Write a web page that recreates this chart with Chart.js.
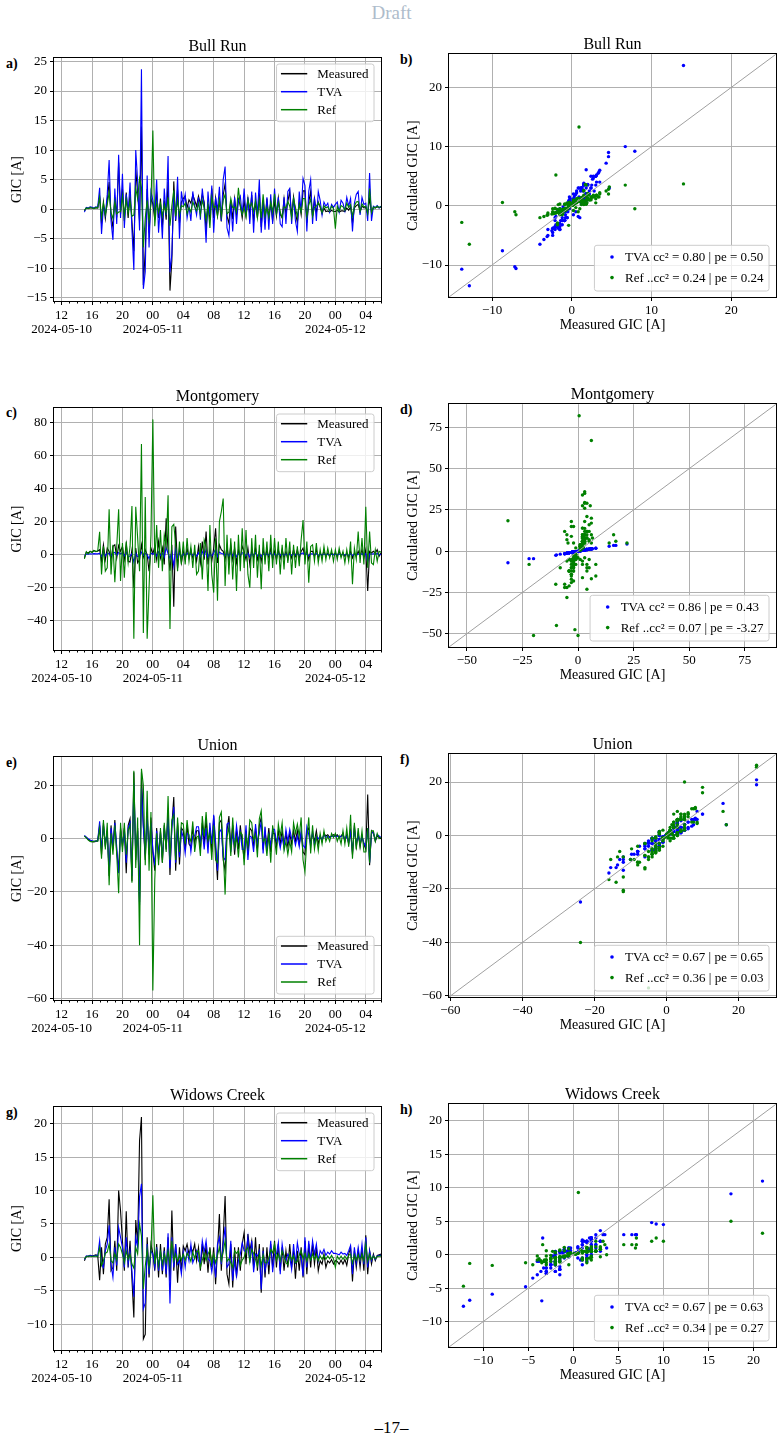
<!DOCTYPE html>
<html><head><meta charset="utf-8">
<script src="https://cdn.jsdelivr.net/npm/chart.js@4.4.1/dist/chart.umd.min.js"></script>
<style>
html,body{margin:0;padding:0;background:#fff;}
body{width:783px;height:1442px;position:relative;overflow:hidden;font-family:'Liberation Serif','Times New Roman',Times,serif;}
canvas{position:absolute;}
.lab{position:absolute;font-weight:bold;font-size:14px;line-height:14px;color:#000;}
#draft{position:absolute;left:0;width:783px;text-align:center;top:2px;font-size:19px;line-height:22px;color:#aebccb;}
#pageno{position:absolute;left:0;width:783px;text-align:center;top:1418px;font-size:17px;line-height:20px;color:#000;}
</style></head><body>
<div id="draft">Draft</div>
<div id="pageno">–17–</div>
<div class="lab" style="left:6px;top:57px">a)</div>
<div class="lab" style="left:400px;top:53px">b)</div>
<div class="lab" style="left:6px;top:406px">c)</div>
<div class="lab" style="left:400px;top:403px">d)</div>
<div class="lab" style="left:6px;top:756px">e)</div>
<div class="lab" style="left:400px;top:753px">f)</div>
<div class="lab" style="left:6px;top:1106px">g)</div>
<div class="lab" style="left:400px;top:1103px">h)</div>
<script>
// ---------------- DATA ----------------
// samples every 15 minutes from 2024-05-10 15:00 (hours counted from 2024-05-10 00:00)
const START_HOUR = 15;
const STEP_HOURS = 0.25;
const stationNames = ['Bull Run', 'Montgomery', 'Union', 'Widows Creek'];
const seriesNames = ['Measured', 'TVA', 'Ref'];
const timeTicks = [12, 16, 20, 24, 28, 32, 36, 40, 44, 48, 52];

const bullRunMeasured = [
-0.3,0.2,0.1,0.2,0.2,0.1,0.2,0.2,
2.0,-2.5,1.2,-1.6, 1.4,4.6,-1.2,-3.1, 2.0,-1.4,7.9,-0.8, 3.5,-2.0,2.8,-1.5,
2.6,-2.1,-7.15,6.7, 2.7,-2.0,14.0,-12.85, -7.0,3.4,-4.0,1.8, 0.9,-1.8,3.0,-1.5,
1.8,-3.0,1.5,-1.8, 4.6,-13.8,-8.7,4.7, -2.0,3.3,-2.4,1.2, 1.8,2.2,0.2,1.6,
1.0,2.4,1.5,0.5, 2.2,0.8,2.5,1.2, -3.5,0.9,-1.8,3.5, -1.5,1.9,-1.1,1.5,
-2.1,2.4,4.3,-1.2, -2.4,1.5,-1.7,1.8, -0.9,1.7,0.6,-1.5, 1.5,-1.2,1.8,-0.9,
2.4,-2.1,1.2,-1.5, 2.7,-3.0,1.5,-1.8, 1.8,-1.5,1.1,-2.1, 1.5,-1.2,1.9,-0.9,
-1.5,1.8,-0.9,1.3, 3.0,-1.2,2.1,-0.6, -2.3,1.2,-0.9,3.1, 3.1,-2.3,1.2,3.0,
-1.2,1.8,-0.6,1.2, 0.3,-0.8,0.2,-0.4, -0.3,-0.5,-0.2,-0.4, -0.4,-0.2,-0.5,-0.3,
-0.3,-0.4,0.2,-0.2, 0.4,-2.4,0.2,0.6, 0.8,-0.5,0.5,0.2, 0.3,-0.8,1.8,-0.6,
0.3,0.2,0.4,0.2, 0.4];
const bullRunTVA = [
-0.5,0.3,0.2,0.4,0.3,0.2,0.4,0.3,
3.6,-4.2,0.5,-1.0, 2.5,8.3,-2.0,-5.2, 3.5,-2.5,9.2,-1.5, 6.0,-3.2,2.5,-0.5,
4.5,-3.5,-10.3,10.0, 4.7,-3.6,23.7,-13.5, -10.6,5.7,-6.5,3.0, 1.5,-1.0,5.0,-4.0,
1.0,-5.0,3.5,-1.0, 9.0,-10.7,-7.6,3.0, -1.8,5.5,-5.0,3.0, 0.8,2.5,-1.5,0.5,
-2.0,3.0,0.6,-1.0, 2.0,-1.8,3.5,0.3, -5.7,3.0,-1.0,4.0, -4.0,2.0,-0.2,3.8,
-2.0,5.0,7.2,-3.2, -4.5,1.0,-3.8,2.0, -2.5,1.5,2.2,-1.0, 3.5,-1.0,2.0,-2.5,
3.0,-4.0,2.8,-1.0, 5.0,-4.0,1.2,-3.5, 2.0,-3.5,2.5,-2.5, 3.5,-1.0,2.0,-2.5,
-3.0,2.0,-2.5,3.0, 3.5,-2.5,2.0,-2.0, -3.8,3.0,-0.5,5.2, 4.0,-3.8,3.0,5.0,
-2.5,2.0,-2.0,3.0, 1.5,-1.0,1.2,0.5, 1.0,-0.5,0.8,0.3, 0.8,1.2,-0.5,1.5,
1.0,-0.3,2.0,0.5, 1.8,-3.8,1.0,2.5, 3.0,-1.0,2.0,0.8, 1.0,-2.0,6.1,-2.0,
0.5,0.3,0.6,0.2, 0.5];
const bullRunRef = [
-0.2,0.2,0.1,0.3,0.2,0.1,0.3,0.2,
2.1,-1.4,1.0,-0.9, 0.8,2.8,-0.6,-1.6, 1.3,-0.8,-0.5,-0.4, 2.2,-1.2,1.6,-0.7,
1.5,-1.2,-1.0,3.5, 1.8,5.2,3.7,-6.5, -1.5,1.5,-2.0,0.9, 13.3,-2.9,1.2,-0.5,
1.0,-1.2,0.8,-0.6, 2.0,-2.8,0.55,3.2, -1.2,1.5,-1.0,0.6, 0.4,1.0,-0.8,0.3,
-0.5,1.2,0.4,-0.3, 1.0,-1.0,1.5,0.2, -1.8,0.7,-3.2,2.0, 0.3,0.5,-1.2,1.6,
-1.2,1.5,2.5,-0.8, -0.5,1.8,0.2,0.4, -0.5,3.6,0.5,-0.9, 0.2,-1.3,1.6,0.3,
1.0,-0.4,1.4,-1.5, 1.5,-1.5,2.5,-1.1, 0.3,-1.4,1.2,-0.5, 2.6,-0.8,1.1,-0.5,
-1.4,0.4,0.2,1.3, 0.5,-1.5,1.8,0.3, -1.3,0.8,-0.5,1.8, 1.8,-1.3,0.7,1.7,
-1.2,0.3,0.5,1.1, 0.5,-0.6,0.6,0.2, 0.4,-0.3,0.5,0.1, -3.3,0.5,-0.4,0.6,
0.4,-0.2,1.0,0.3, 0.8,-1.2,0.5,1.2, 1.3,-0.4,0.9,0.4, 0.5,-0.8,3.5,-0.6,
0.4,0.2,0.5,0.3, 0.4];

const montgomeryMeasured = [
-2.0,1.5,1.0,2.0,1.5,2.5,1.8,2.2,
3.0,-4.0,6.0,-3.0, 4.0,2.0,-3.0,5.0, 6.0,-2.0,5.5,2.0, 5.0,-3.0,6.5,-4.0,
-4.5,3.0,-20.0,4.0, -5.0,-3.0,6.0,-1.4, 3.0,0.0,-10.0,4.0, 0.5,5.0,-3.0,8.0,
-2.0,4.0,-6.0,22.0, 3.0,-9.7,6.0,-31.5, 17.0,-8.0,4.0,-5.0, 2.0,-3.0,4.0,-2.0,
3.0,-2.0,2.0,-4.0, 5.0,-5.0,8.0,-3.0, 14.0,-6.0,3.0,-4.0, 4.0,16.0,-5.0,6.0,
3.0,2.0,-3.0,5.0, -4.0,6.0,-3.0,4.0, -5.0,3.0,-2.0,5.0, 2.0,-3.0,4.0,-6.0,
3.0,-2.0,4.0,-3.0, 2.0,-4.0,3.0,-2.0, 3.0,-2.0,4.0,-3.0, 2.0,-3.0,3.0,-2.0,
3.0,-2.0,2.0,-3.0, 2.0,-2.0,3.0,-1.0, 3.0,-2.0,2.0,4.0, -2.0,3.0,-3.0,2.0,
2.0,-1.0,3.0,-2.0, 1.0,-1.0,2.0,-1.0, 1.0,-1.0,1.0,0.0, 1.0,-1.0,2.0,-1.0,
1.0,-1.0,1.0,-2.0, 2.0,-2.0,1.0,-1.0, 2.0,-1.0,3.0,-2.0, 3.0,-22.0,2.0,1.0,
2.0,1.0,3.0,-1.0, 1.0];
const montgomeryTVA = [
-0.5,0.4,0.3,0.5,0.4,0.6,0.5,0.5,
0.8,-1.0,1.4,-0.8, 1.0,0.5,-0.8,1.2, 1.4,-0.5,1.3,0.5, 1.2,-0.7,1.5,-1.0,
-1.0,0.7,-4.5,1.0, -1.2,-0.7,1.5,-0.4, 0.8,0.0,-2.5,1.0, 0.2,1.2,-0.8,1.8,
-0.5,1.0,-1.5,4.4, 0.7,-2.2,1.5,-7.0, 3.5,-1.8,1.0,-1.2, 0.5,-0.7,1.0,-0.5,
0.7,-0.5,0.5,-1.0, 1.2,-1.2,1.8,-0.7, 3.0,-1.5,0.7,-1.0, 1.0,3.5,-1.2,1.5,
0.7,0.5,-0.7,1.2, -1.0,1.5,-0.7,1.0, -1.2,0.7,-0.5,1.2, 0.5,-0.7,1.0,-1.5,
0.7,-0.5,1.0,-0.7, 0.5,-1.0,0.7,-0.5, 0.7,-0.5,1.0,-0.7, 0.5,-0.7,0.7,-0.5,
0.7,-0.5,0.5,-0.7, 0.5,-0.5,0.7,-0.3, 0.7,-0.5,0.5,1.0, -0.5,0.7,-0.7,0.5,
0.5,-0.3,0.7,-0.5, 0.3,-0.3,0.5,-0.3, 0.3,-0.3,0.3,0.0, 0.3,-0.3,0.5,-0.3,
0.3,-0.3,0.3,-0.5, 0.5,-0.5,0.3,-0.3, 0.5,-0.3,0.7,-0.5, 0.7,-4.5,0.5,0.3,
0.5,0.3,0.7,-0.3, 0.3];
const montgomeryRef = [
-2.5,1.8,0.5,2.0,1.2,2.5,2.0,2.2,
13.8,-12.0,5.0,-10.0, -8.0,27.5,-12.0,6.0, -16.7,5.0,27.5,-16.0, 7.0,-14.0,8.0,-5.0,
5.0,29.5,-51.0,29.0, 10.0,-10.0,67.0,-47.5, 35.0,-51.0,-20.0,12.0, 82.0,-5.0,18.0,-8.0,
15.0,-10.0,12.0,5.0, 36.0,-45.0,17.0,18.4, 6.0,-10.0,8.0,-6.0, 8.0,-6.0,10.0,-4.0,
5.0,-8.0,6.0,-12.0, -10.0,7.0,-15.0,9.0, 5.0,-22.0,18.0,-12.0, -23.0,10.0,-28.0,20.0,
26.0,34.0,-19.0,12.0, -12.0,10.0,-15.0,8.0, -22.0,12.0,-10.0,16.0, -8.0,15.0,-12.0,-20.0,
10.0,-8.0,12.0,-14.0, 6.0,-21.0,10.0,-6.0, 8.0,-10.0,12.0,-8.0, 10.0,-6.0,8.0,-12.0,
6.0,-9.0,10.0,-5.0, 8.0,-12.0,6.0,-8.0, 5.0,-7.0,9.0,21.0, -6.0,8.0,-17.0,5.0,
6.0,-4.0,7.0,-5.0, 3.0,-4.0,5.0,-3.0, 4.0,-2.0,3.0,-4.0, 3.0,-3.0,4.0,-2.0,
2.0,-5.0,3.0,-4.0, 8.0,-18.0,4.0,-3.0, 14.0,-5.0,10.0,-6.0, 29.0,-8.0,14.0,-5.0,
-6.0,3.0,-4.0,2.0, 1.5];

const unionMeasured = [
1.0,0.5,-0.3,-0.8,-1.0,-1.2,-1.0,-0.8,
5.0,-6.0,6.0,-3.0, 3.0,-14.0,5.0,-4.0, 7.0,-5.0,-12.0,4.0, -3.0,4.0,-13.0,5.0,
7.5,-16.0,25.0,-8.0, 4.0,-23.9,25.0,5.0, -8.0,10.0,-6.0,8.0, -5.0,-12.0,4.0,-8.0,
3.0,-9.0,5.0,-4.0, 10.0,-13.6,5.0,15.7, -12.0,6.0,-9.7,4.0, 3.0,-4.0,5.0,-2.0,
-3.0,4.0,-2.0,3.0, 3.0,-4.0,6.0,-2.0, 7.5,-3.0,4.0,-5.0, 8.5,-4.0,-15.5,6.0,
7.0,-8.0,-12.0,3.0, 8.5,-3.0,5.0,-6.0, 3.0,-4.0,5.0,-2.0, -7.5,3.0,-6.0,4.0,
3.0,-3.0,4.0,-4.0, 5.0,8.0,-4.0,3.0, -3.0,4.0,-5.0,2.0, 2.0,-3.0,3.0,-2.0,
3.0,-2.0,2.0,-3.0, 2.0,-2.0,3.0,-1.0, 3.0,-2.0,2.0,-5.0, -6.0,3.0,4.0,-2.0,
2.0,-1.0,3.0,-2.0, 1.0,-1.0,2.0,1.0, 1.5,0.5,1.0,1.5, 1.0,1.5,0.5,1.0,
2.0,-1.0,1.5,-2.0, 3.0,-6.0,5.0,-3.0, 2.0,-3.0,1.0,-2.0, -4.0,16.6,-10.0,3.0,
2.0,-1.0,1.0,0.5, 0.0];
const unionTVA = [
1.2,0.6,0.0,-0.5,-0.8,-1.0,-0.9,-0.7,
6.5,-4.0,5.0,-2.0, 2.5,-12.0,4.0,-3.0, 6.0,-3.0,-13.0,3.0, -2.0,3.0,-9.0,4.0,
6.0,-14.0,20.8,-6.0, 3.0,-24.9,19.0,4.0, -6.0,8.0,-5.0,6.0, -4.0,-10.0,3.0,-6.0,
2.5,-7.0,4.0,-3.0, 8.0,-11.0,4.0,12.0, -9.0,5.0,-7.0,3.0, 0.5,-5.5,2.0,1.5,
-5.0,1.0,1.0,4.5, 4.5,-1.0,3.0,-4.0, 4.0,-5.5,6.0,-2.0, 9.0,-1.0,-12.0,2.5,
3.5,-7.0,-8.0,5.5, 6.0,-5.0,2.0,-3.0, 5.0,-1.0,2.5,-4.0, -4.0,5.0,-8.0,1.0,
0.5,-5.0,5.5,-1.5, 2.0,6.5,-5.5,4.5, -4.5,1.5,-2.5,3.5, 3.5,-1.0,0.5,-3.5,
0.5,-3.5,3.5,-1.0, 3.5,0.0,1.0,-2.5, 1.0,-3.0,3.0,-2.5, -3.5,4.5,1.5,-3.0,
3.0,-2.5,1.0,0.0, 1.0,-0.5,1.5,0.5, 1.0,0.5,0.8,1.0, 0.8,1.0,0.5,0.8,
1.5,-0.5,1.0,-1.5, 2.5,-5.0,4.0,-2.0, 1.5,-2.0,1.0,-1.5, -3.0,4.0,-9.0,2.0,
2.5,-0.5,1.5,1.0, 0.5];
const unionRef = [
1.0,0.3,-0.5,-1.0,-1.2,-1.0,-0.8,-1.0,
4.0,-7.5,7.0,-4.0, 6.0,-17.5,2.0,-6.0, 5.0,-6.0,-20.5,6.0, -5.0,6.0,-6.0,3.0,
5.0,-16.5,25.5,-11.0, 8.0,-40.0,26.3,20.0, -10.0,18.0,-12.0,10.0, -57.0,-15.5,2.0,-10.0,
4.0,-9.0,6.0,-5.0, 16.0,-8.0,7.0,9.0, -8.0,8.0,-5.0,6.0, 5.5,-2.0,7.0,0.5,
-1.0,6.5,-5.0,0.5, 1.0,-6.5,8.5,1.0, 10.0,-0.5,2.0,-8.0, 5.0,-8.0,-9.0,8.0,
10.0,-4.0,-21.0,0.5, 4.5,-6.5,8.0,-3.0, 0.5,-7.0,2.5,1.5, -10.0,1.0,-3.0,7.0,
6.0,-0.5,1.5,-7.0, 7.5,10.5,-1.0,0.0, -6.5,2.0,-9.0,5.0, 0.0,-6.0,5.5,1.0,
6.0,-4.5,-1.0,-6.0, -1.0,-5.0,6.0,2.0, 5.5,1.0,8.0,-8.0, -12.5,0.0,8.0,-5.5,
5.0,-4.0,1.0,-4.5, 2.0,-2.0,3.0,-1.0, 1.0,-1.0,2.0,0.5, 2.0,-1.0,1.0,-2.0,
3.0,-2.0,4.0,-3.0, 9.0,-7.5,6.0,-4.0, 4.0,-3.0,3.0,-5.0, -5.0,4.0,-9.0,3.0,
3.0,-1.0,2.0,0.0, 0.5];

const widowsCreekMeasured = [
-0.5,0.2,0.1,0.3,0.2,0.3,0.4,0.3,
-3.4,1.5,-2.5,2.0, 3.0,8.7,-2.0,-1.5, 2.5,-2.0,10.0,7.0, 2.5,-2.0,6.9,-1.5,
2.5,-3.3,-9.0,5.6, 2.0,17.5,21.0,-12.2, -11.5,3.0,-3.0,2.0, 0.56,-2.0,2.0,-3.0,
2.0,-2.5,1.5,-3.0, 3.0,-3.5,7.0,-2.0, 2.0,-3.8,1.5,-2.0, 1.7,1.0,2.0,0.5,
1.5,0.8,2.0,-0.5, 1.5,-2.0,2.0,-1.0, 1.8,-2.3,1.5,-1.5, 1.5,-4.0,1.0,6.5,
-2.0,3.0,9.2,-2.5, -4.0,2.0,-4.5,1.5, -3.0,1.5,-2.0,2.0, 3.7,-1.0,3.5,1.0,
2.5,-1.5,3.0,-2.0, 2.0,-5.3,1.5,-3.0, 1.5,-2.5,2.0,-1.5, 2.5,-1.5,2.0,-2.0,
1.5,-2.0,1.0,-1.5, 2.0,-1.5,1.0,-3.2, 1.0,-2.0,1.5,-3.0, 2.5,-2.5,2.0,-1.5,
2.0,-1.0,1.5,-2.0, -0.5,-1.0,0.5,-1.5, -0.5,-0.8,-0.3,-1.0, -0.5,-0.6,-1.0,-0.4,
-1.0,-0.3,-1.2,0.5, 1.5,-3.6,1.0,-1.5, 1.0,-1.5,1.2,-2.0, 3.3,-2.5,1.0,-1.0,
0.5,-0.5,0.3,0.4, 0.5];
const widowsCreekTVA = [
-0.3,0.2,0.2,0.3,0.2,0.2,0.3,0.2,
2.5,-1.0,-1.5,1.0, 2.0,4.8,-1.0,-3.0, 1.5,-1.2,4.5,3.0, 1.5,-1.5,3.0,-1.0,
1.0,-2.0,-5.9,3.0, 1.5,9.1,11.0,-7.7, -6.8,2.0,-2.5,1.0, 0.5,-1.5,1.5,-2.0,
1.0,-2.0,1.0,-2.5, 3.6,-6.9,3.0,-1.5, 2.0,-1.0,-0.5,-2.5, 0.8,-1.5,1.0,-0.5,
2.0,-0.8,0.0,1.0, -0.5,-1.0,2.5,0.8, 2.5,-0.2,-0.5,-2.2, 0.0,-3.0,2.0,3.0,
-1.0,2.0,4.6,-1.5, -1.0,2.5,-3.5,-0.5, -2.8,-0.5,0.5,2.2, 1.0,0.8,3.0,-0.8,
2.5,-2.2,0.5,0.2, 1.0,-4.8,1.0,-2.0, -0.5,-1.0,2.5,-2.2, 0.5,0.5,2.2,-2.5,
2.0,0.0,-0.5,0.5, 0.0,-1.8,2.0,-1.0, 2.2,0.5,0.0,-2.8, 3.0,-1.5,2.5,-0.5,
2.5,0.5,2.0,-0.5, 1.0,0.5,1.2,0.3, 0.8,0.5,1.0,0.6, 0.6,0.5,0.4,0.8,
0.5,0.6,0.3,1.0, 1.8,-2.5,1.5,-0.8, 1.5,-0.5,2.0,-1.0, 3.0,-1.5,1.0,-0.5,
0.3,-0.3,0.2,0.3, 0.3];
const widowsCreekRef = [
-0.2,0.1,0.2,0.2,0.1,0.2,0.2,0.1,
1.5,-1.2,-0.5,0.6, 0.8,2.0,-0.5,-0.8, 0.6,-0.4,2.0,1.5, 0.5,-0.8,1.0,-0.3,
0.5,-1.0,-1.6,1.5, 0.5,5.0,3.2,-4.7, -1.3,1.2,-1.5,0.8, 9.3,-1.0,1.0,-1.2,
0.8,-1.0,0.5,-0.8, 1.0,-1.2,2.5,-0.5, 0.5,-0.6,0.4,-0.4, 0.5,-0.5,0.6,0.2,
-0.6,0.8,-0.2,0.9, 1.0,-1.5,-0.4,0.6, -0.5,0.5,1.1,-1.0, 0.5,-0.8,0.3,1.5,
-0.5,0.8,2.5,-0.6, -0.2,-0.8,-1.5,1.0, 0.6,1.0,-1.2,-0.4, 0.0,1.1,1.5,-0.7,
1.2,0.6,-0.3,-1.3, 0.5,-1.2,0.4,-0.8, -0.8,-0.1,1.2,0.7, 2.0,-0.4,0.5,-0.5,
1.0,0.3,-0.8,-1.1, 0.5,-0.4,0.3,-0.8, -0.6,0.4,1.0,-0.2, 0.6,-0.6,0.5,-0.4,
0.5,-0.3,0.4,-0.5, 0.2,-0.3,0.3,-0.3, 0.2,-0.2,0.3,-0.2, -1.5,0.2,-0.3,0.2,
-0.3,0.2,-0.3,0.3, 0.5,-0.9,0.4,-0.4, 0.4,-0.4,0.5,-0.5, 2.0,-0.6,0.5,-0.3,
0.2,-0.2,0.1,0.2, 0.2];

// scatter legend texts
const tvaScores = ['TVA cc² = 0.80 | pe = 0.50', 'TVA cc² = 0.86 | pe = 0.43', 'TVA cc² = 0.67 | pe = 0.65', 'TVA cc² = 0.67 | pe = 0.63'];
const refScores = ['Ref ..cc² = 0.24 | pe = 0.24', 'Ref ..cc² = 0.07 | pe = -3.27', 'Ref ..cc² = 0.36 | pe = 0.03', 'Ref ..cc² = 0.34 | pe = 0.27'];

// axis ticks and limits
const tsYTicks = [[-15,-10,-5,0,5,10,15,20,25], [-40,-20,0,20,40,60,80], [-60,-40,-20,0,20], [-10,-5,0,5,10,15,20]];
const tsYLimits = [[-15.56, 25.6], [-57.8, 88.9], [-60.6, 30.7], [-13.85, 22.5]];
const tsXLimits = [11, 54];
const scTicks = [[-10,0,10,20], [-50,-25,0,25,50,75], [-60,-40,-20,0,20], [-10,-5,0,5,10,15,20]];
const scLimits = [[-15.4, 25.6], [-58, 89], [-60.4, 30.4], [-13.8, 22.5]];

// ---------------- LAYOUT ----------------
const FONT = "'Liberation Serif','Times New Roman',Times,serif";
Chart.defaults.font.family = FONT;
Chart.defaults.font.size = 13;
Chart.defaults.color = '#000';

const TS_TOP = [58, 408, 757, 1107], TS_BOT = [301, 650, 1000, 1350];
const SC_TOP = [54, 404, 754, 1104], SC_BOT = [297, 647, 997, 1347];
const GRID = '#b0b0b0';

const measured = [bullRunMeasured, montgomeryMeasured, unionMeasured, widowsCreekMeasured];
const tva = [bullRunTVA, montgomeryTVA, unionTVA, widowsCreekTVA];
const ref = [bullRunRef, montgomeryRef, unionRef, widowsCreekRef];
const sampleHours = bullRunMeasured.map((_, i) => START_HOUR + i * STEP_HOURS);

function fmtNum(v) { return v < 0 ? '\u2212' + Math.abs(v) : String(v); }
function pad2(n) { return (n < 10 ? '0' : '') + n; }
function timeLabel(h) {
  const hh = pad2(h % 24);
  if (h === timeTicks[0] || h % 24 === 0) return [hh, '2024-05-' + pad2(10 + Math.floor(h / 24))];
  return hh;
}

const framePlugin = {
  id: 'frame',
  afterDatasetsDraw(chart, args, o) {
    const a = chart.chartArea, c = chart.ctx;
    c.save(); c.strokeStyle = '#000'; c.lineWidth = 1;
    c.strokeRect(Math.round(a.left) - 0.5, Math.round(a.top) - 0.5, Math.round(a.right - a.left) + 1, Math.round(a.bottom - a.top) + 1);
    if (o && o.minorHours) {
      const xs = chart.scales.x;
      c.beginPath();
      for (let h = Math.ceil(xs.min); h <= xs.max; h++) {
        if (h % 4 === 0) continue;
        const px = Math.round(xs.getPixelForValue(h)) + 0.5;
        c.moveTo(px, Math.round(a.bottom)); c.lineTo(px, Math.round(a.bottom) + 2.5);
      }
      c.stroke();
    }
    c.restore();
  }
};

const insideLegend = {
  id: 'insideLegend',
  afterDraw(chart, args, o) {
    if (!o || !o.kind) return;
    const ctx = chart.ctx, a = chart.chartArea;
    const items = chart.data.datasets.filter(d => d.inLegend);
    ctx.save();
    ctx.font = '13px ' + FONT;
    const tw = Math.max(...items.map(d => ctx.measureText(d.label).width));
    const textOff = o.kind === 'line' ? 40.7 : 30.6;
    const w = textOff + tw + 5.5;
    const h = o.padTop + o.rowH * (items.length - 1) + o.padBottom;
    const x0 = a.right - 7 - w;
    const y0 = o.pos === 'upper' ? a.top + 6 : a.bottom - 6 - h;
    ctx.beginPath();
    if (ctx.roundRect) ctx.roundRect(x0, y0, w, h, 2.5); else ctx.rect(x0, y0, w, h);
    ctx.fillStyle = 'rgba(255,255,255,0.8)'; ctx.fill();
    ctx.strokeStyle = '#cccccc'; ctx.lineWidth = 1; ctx.stroke();
    items.forEach((d, i) => {
      const cy = y0 + o.padTop + i * o.rowH;
      if (o.kind === 'line') {
        ctx.strokeStyle = d.borderColor; ctx.lineWidth = 1.5;
        ctx.beginPath(); ctx.moveTo(x0 + 4.4, cy); ctx.lineTo(x0 + 30.7, cy); ctx.stroke();
      } else {
        ctx.fillStyle = d.backgroundColor;
        ctx.beginPath(); ctx.arc(x0 + 17.6, cy, 1.8, 0, Math.PI * 2); ctx.fill();
      }
      ctx.fillStyle = '#000'; ctx.textBaseline = 'middle'; ctx.textAlign = 'left';
      ctx.fillText(d.label, x0 + textOff, cy + 1);
    });
    ctx.restore();
  }
};

function gridOpts() { return { color: GRID, lineWidth: 1, tickLength: 4, tickColor: '#000', tickWidth: 1, drawTicks: true }; }

function yAxis(lim, ticks, title, width) {
  return {
    type: 'linear', position: 'left', min: lim[0], max: lim[1],
    afterBuildTicks: s => { s.ticks = ticks.map(v => ({ value: v })); },
    afterFit: s => { s.width = width; },
    ticks: { autoSkip: false, padding: 3, font: { size: 13 }, color: '#000', callback: v => fmtNum(v) },
    grid: gridOpts(), border: { display: false },
    title: { display: true, text: title, font: { size: 14 }, padding: 0, color: '#000' }
  };
}

function addCanvas(left, top, w, h) {
  const cv = document.createElement('canvas');
  cv.width = w; cv.height = h;
  cv.style.left = left + 'px'; cv.style.top = top + 'px';
  cv.style.width = w + 'px'; cv.style.height = h + 'px';
  document.body.appendChild(cv);
  return cv;
}

function makeTimeSeries(k) {
  const top = TS_TOP[k], bot = TS_BOT[k];
  const cTop = top - 21, cH = bot + 40 - cTop, cW = 391;
  const cv = addCanvas(0, cTop, cW, cH);
  const pts = arr => arr.map((v, i) => ({ x: sampleHours[i], y: v }));
  const colors = ['#000000', '#0000ff', '#008000'];
  const arrays = [measured[k], tva[k], ref[k]];
  new Chart(cv, {
    type: 'line',
    data: { datasets: arrays.map((arr, j) => ({
      label: seriesNames[j], data: pts(arr), borderColor: colors[j], backgroundColor: colors[j],
      borderWidth: 1.1, pointRadius: 0, tension: 0, order: 3 - j, inLegend: true
    })) },
    options: {
      responsive: false, animation: false, devicePixelRatio: 1, events: [],
      layout: { padding: { left: 9, right: 10, top: 0, bottom: 0 } },
      plugins: {
        legend: { display: false }, tooltip: { enabled: false },
        title: { display: true, text: stationNames[k], fullSize: false, color: '#000',
          font: { size: 16, weight: 'normal' }, padding: { top: 0, bottom: 1.8 } },
        frame: { minorHours: true },
        insideLegend: { kind: 'line', pos: k === 2 ? 'lower' : 'upper', rowH: 18, padTop: 9.7, padBottom: 12 }
      },
      scales: {
        x: {
          type: 'linear', position: 'bottom', min: tsXLimits[0], max: tsXLimits[1],
          afterBuildTicks: s => { s.ticks = timeTicks.map(v => ({ value: v })); },
          afterFit: s => { s.height = 40; },
          ticks: { autoSkip: false, maxRotation: 0, minRotation: 0, padding: 4, color: '#000',
            font: { size: 13, lineHeight: 1.05 }, callback: v => timeLabel(v) },
          grid: gridOpts(), border: { display: false }
        },
        y: yAxis(tsYLimits[k], tsYTicks[k], 'GIC [A]', 45)
      }
    },
    plugins: [framePlugin, insideLegend]
  });
}

function makeScatter(k) {
  const top = SC_TOP[k], bot = SC_BOT[k];
  const cTop = top - 19.2, cH = bot + 37 - cTop, cW = 383;
  const cv = addCanvas(400, cTop, cW, cH);
  const lim = scLimits[k];
  const M = measured[k];
  new Chart(cv, {
    type: 'scatter',
    data: { datasets: [
      { label: tvaScores[k], data: M.map((m, i) => ({ x: m, y: tva[k][i] })), backgroundColor: '#0000ff',
        pointRadius: 1.7, pointBorderWidth: 0, order: 2, inLegend: true },
      { label: refScores[k], data: M.map((m, i) => ({ x: m, y: ref[k][i] })), backgroundColor: '#008000',
        pointRadius: 1.7, pointBorderWidth: 0, order: 1, inLegend: true },
      { label: 'y = x', data: [{ x: lim[0], y: lim[0] }, { x: lim[1], y: lim[1] }], showLine: true,
        borderColor: '#a0a0a0', borderWidth: 1, pointRadius: 0, order: 0, inLegend: false }
    ] },
    options: {
      responsive: false, animation: false, devicePixelRatio: 1, events: [],
      layout: { padding: { left: 5, right: 7, top: 0, bottom: 0 } },
      plugins: {
        legend: { display: false }, tooltip: { enabled: false },
        title: { display: true, text: stationNames[k], fullSize: false, color: '#000',
          font: { size: 16, weight: 'normal' }, padding: { top: 0, bottom: 0 } },
        frame: { minorHours: false },
        insideLegend: { kind: 'dot', pos: 'lower', rowH: 20.6, padTop: 11.7, padBottom: 13.4 }
      },
      scales: {
        x: {
          type: 'linear', position: 'bottom', min: lim[0], max: lim[1],
          afterBuildTicks: s => { s.ticks = scTicks[k].map(v => ({ value: v })); },
          afterFit: s => { s.height = 37; },
          ticks: { autoSkip: false, maxRotation: 0, minRotation: 0, padding: 2, color: '#000',
            font: { size: 13 }, callback: v => fmtNum(v) },
          grid: gridOpts(), border: { display: false },
          title: { display: true, text: 'Measured GIC [A]', font: { size: 14 }, padding: 0, color: '#000' }
        },
        y: yAxis(lim, scTicks[k], 'Calculated GIC [A]', 44)
      }
    },
    plugins: [framePlugin, insideLegend]
  });
}

for (let k = 0; k < 4; k++) { makeTimeSeries(k); makeScatter(k); }
</script>
</body></html>
